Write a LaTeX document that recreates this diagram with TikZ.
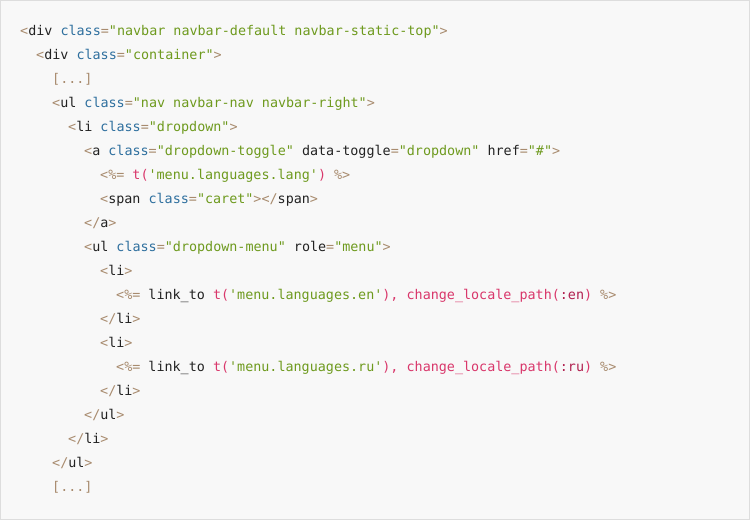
\documentclass[tikz,border=0pt]{standalone}
\usepackage{fontspec}
\setmonofont{DejaVu Sans Mono}
\usepackage{xcolor}
\definecolor{brk}{HTML}{A88B6E}
\definecolor{nam}{HTML}{222222}
\definecolor{att}{HTML}{2E6F9E}
\definecolor{str}{HTML}{6E9A1E}
\definecolor{red}{HTML}{D9376B}
\definecolor{sym}{HTML}{B0204F}
\definecolor{bgc}{HTML}{F8F8F8}
\definecolor{brd}{HTML}{DDDDDD}
\newcommand\cB[1]{\textcolor{brk}{#1}}
\newcommand\cN[1]{\textcolor{nam}{#1}}
\newcommand\cA[1]{\textcolor{att}{#1}}
\newcommand\cS[1]{\textcolor{str}{#1}}
\newcommand\cR[1]{\textcolor{red}{#1}}
\newcommand\cY[1]{\textcolor{sym}{#1}}
\begin{document}
\begin{tikzpicture}[x=1pt,y=-1pt,
  codeline/.style={anchor=base west,inner sep=0pt,font=\ttfamily\fontsize{13.4}{16}\selectfont}]
\useasboundingbox (0,0) rectangle (750,520);
\fill[bgc,draw=brd] (0.5,0.5) rectangle (749.5,519.5);
\def\L#1#2#3{\node[codeline] (l#1) at ({20+16*#2},{35+24.05*#1}) {#3};}
\L{0}{0}{\cB{<}\cN{div} \cA{class}\cB{=}\cS{"navbar navbar-default navbar-static-top"}\cB{>}}
\L{1}{1}{\cB{<}\cN{div} \cA{class}\cB{=}\cS{"container"}\cB{>}}
\L{2}{2}{\cB{[...]}}
\L{3}{2}{\cB{<}\cN{ul} \cA{class}\cB{=}\cS{"nav navbar-nav navbar-right"}\cB{>}}
\L{4}{3}{\cB{<}\cN{li} \cA{class}\cB{=}\cS{"dropdown"}\cB{>}}
\L{5}{4}{\cB{<}\cN{a} \cA{class}\cB{=}\cS{"dropdown-toggle"} \cN{data-toggle}\cB{=}\cS{"dropdown"} \cN{href}\cB{=}\cS{"\#"}\cB{>}}
\L{6}{5}{\cB{<\%=} \cR{t(}\cS{'menu.languages.lang'}\cR{)} \cB{\%>}}
\L{7}{5}{\cB{<}\cN{span} \cA{class}\cB{=}\cS{"caret"}\cB{></}\cN{span}\cB{>}}
\L{8}{4}{\cB{</}\cN{a}\cB{>}}
\L{9}{4}{\cB{<}\cN{ul} \cA{class}\cB{=}\cS{"dropdown-menu"} \cN{role}\cB{=}\cS{"menu"}\cB{>}}
\L{10}{5}{\cB{<}\cN{li}\cB{>}}
\L{11}{6}{\cB{<\%=} \cN{link\_to} \cR{t(}\cS{'menu.languages.en'}\cR{),} \cR{change\_locale\_path(}\cY{:en}\cR{)} \cB{\%>}}
\L{12}{5}{\cB{</}\cN{li}\cB{>}}
\L{13}{5}{\cB{<}\cN{li}\cB{>}}
\L{14}{6}{\cB{<\%=} \cN{link\_to} \cR{t(}\cS{'menu.languages.ru'}\cR{),} \cR{change\_locale\_path(}\cY{:ru}\cR{)} \cB{\%>}}
\L{15}{5}{\cB{</}\cN{li}\cB{>}}
\L{16}{4}{\cB{</}\cN{ul}\cB{>}}
\L{17}{3}{\cB{</}\cN{li}\cB{>}}
\L{18}{2}{\cB{</}\cN{ul}\cB{>}}
\L{19}{2}{\cB{[...]}}
\end{tikzpicture}
\end{document}
